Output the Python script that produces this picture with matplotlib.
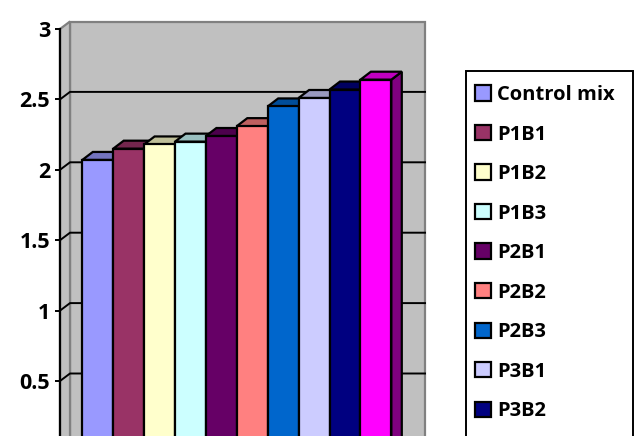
import matplotlib
matplotlib.use("Agg")
import matplotlib.pyplot as plt
from matplotlib.patches import Polygon, Rectangle
from matplotlib.colors import to_rgb
import numpy as np

# sample data
samples = ["Control mix", "P1B1", "P1B2", "P1B3", "P2B1",
           "P2B2", "P2B3", "P3B1", "P3B2", "P3B3"]
values = [2.07, 2.15, 2.18, 2.20, 2.24, 2.31, 2.45, 2.51, 2.57, 2.64]
colors = ["#9999FF", "#993366", "#FFFFCC", "#CCFFFF", "#660066",
          "#FF8080", "#0066CC", "#CCCCFF", "#000080", "#FF00FF"]
yticks = [0.5, 1, 1.5, 2, 2.5, 3]
ytick_labels = ["0.5", "1", "1.5", "2", "2.5", "3"]

plt.rcParams["font.family"] = ["Open Sans", "DejaVu Sans"]
plt.rcParams["font.weight"] = "bold"

W, H, DPI = 640, 436, 100
fig = plt.figure(figsize=(W / DPI, H / DPI), dpi=DPI)

# front plane of the plot box (pixels)
left, right, top, bottom = 60, 415, 29, 451.4
ax = fig.add_axes([left / W, 1 - bottom / H, (right - left) / W, (bottom - top) / H])
xmin, xmax = -1.222, 10.267
ymin, ymax = 0, 3
ax.set_xlim(xmin, xmax)
ax.set_ylim(ymin, ymax)

# depth offsets in data units
px_x = (right - left) / (xmax - xmin)
px_y = (bottom - top) / (ymax - ymin)
wdx, wdy = 10 / px_x, 7.5 / px_y      # walls
bdx, bdy = 10.5 / px_x, 8 / px_y      # columns

wall = "#C0C0C0"
wall_edge = "#808080"

# back wall and left side wall
ax.add_patch(Polygon([(xmin + wdx, wdy), (xmin + wdx, ymax + wdy),
                      (xmax + wdx, ymax + wdy), (xmax + wdx, wdy)],
                     closed=True, facecolor=wall, edgecolor=wall_edge,
                     linewidth=1.6, clip_on=False, zorder=0))
ax.add_patch(Polygon([(xmin, ymin), (xmin, ymax), (xmin + wdx, ymax + wdy),
                      (xmin + wdx, wdy)],
                     closed=True, facecolor=wall, edgecolor=wall_edge,
                     linewidth=1.6, clip_on=False, zorder=0.5))

# gridlines wrapping side wall + back wall
for v in yticks[:-1]:
    ax.plot([xmin, xmin + wdx, xmax + wdx], [v, v + wdy, v + wdy],
            color="black", linewidth=1.4, clip_on=False, zorder=1)

# 3d columns
x = np.arange(len(values))
handles = []
for i, (xi, v, c) in enumerate(zip(x, values, colors)):
    rgb = np.array(to_rgb(c))
    z = 3 + 3 * i
    top_face = Polygon([(xi - 0.5, v), (xi - 0.5 + bdx, v + bdy),
                        (xi + 0.5 + bdx, v + bdy), (xi + 0.5, v)],
                       closed=True, facecolor=rgb * 0.75, edgecolor="black",
                       linewidth=1.6, clip_on=False, zorder=z)
    side_face = Polygon([(xi + 0.5, ymin), (xi + 0.5, v),
                         (xi + 0.5 + bdx, v + bdy), (xi + 0.5 + bdx, bdy)],
                        closed=True, facecolor=rgb * 0.5, edgecolor="black",
                        linewidth=1.6, clip_on=False, zorder=z)
    ax.add_patch(side_face)
    ax.add_patch(top_face)
    b = ax.bar(xi, v, width=1, color=c, edgecolor="black", linewidth=1.6,
               zorder=z + 1)
    handles.append(b)

# axes styling
ax.patch.set_visible(False)
for s in ["top", "right", "bottom"]:
    ax.spines[s].set_visible(False)
ax.spines["left"].set_linewidth(1.6)
ax.spines["left"].set_zorder(2)
ax.set_xticks([])
ax.set_yticks(yticks, labels=ytick_labels, fontsize=15.5, fontweight="bold")
ax.tick_params(axis="y", direction="out", length=3.5, width=1.4, pad=3.5)

# legend box drawn separately so the entries can sit where they should
fig.patches.append(Rectangle((466 / W, 1 - 480 / H), (633 - 466) / W, (480 - 71) / H,
                             transform=fig.transFigure, facecolor="none",
                             edgecolor="black", linewidth=1.4, zorder=-1))
leg = ax.legend(handles, samples, loc="upper left",
                bbox_to_anchor=(475 / W, 1 - 85 / H),
                bbox_transform=fig.transFigure, frameon=False,
                prop={"size": 14.5, "weight": "bold"},
                handlelength=0.8, handleheight=0.8, handletextpad=0.3,
                borderpad=0, labelspacing=0.97, borderaxespad=0)

fig.savefig("out.png", dpi=DPI)
